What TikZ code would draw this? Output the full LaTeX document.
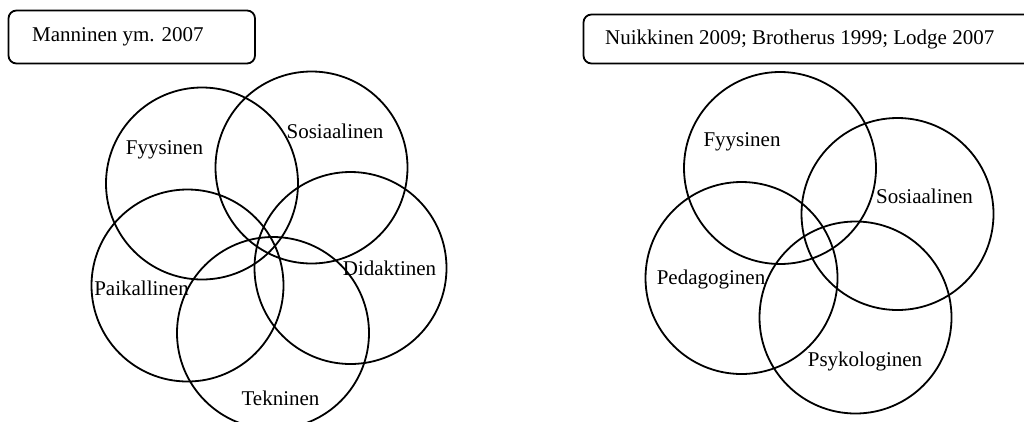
\documentclass[tikz,border=0pt]{standalone}
\usepackage{fontspec}
\setmainfont{Liberation Serif}
\begin{document}
\begin{tikzpicture}[x=1pt,y=-1pt,
  ring/.style={circle,draw=black,line width=1.8pt,minimum size=192pt,inner sep=0pt},
  lbl/.style={font=\fontsize{21}{25}\selectfont,inner sep=0pt},
  refbox/.style={draw=black,line width=1.8pt,rounded corners=8pt}]
\useasboundingbox (0,0) rectangle (1024,421);
\begin{scope}
\clip (0,0) rectangle (1024,421);
% left boxes
\draw[refbox] (8.5,10.5) rectangle (255,63.5);
\node[lbl,anchor=west] (t1) at (32,37) {Manninen ym. 2007};
\draw[refbox] (583.5,14.5) rectangle (1040,63.5);
\node[lbl,anchor=west] (t2) at (605,39) {Nuikkinen 2009; Brotherus 1999; Lodge 2007};
% left circles
\node[ring] (lf) at (202,183.5) {};
\node[ring] (ls) at (311.5,167.5) {};
\node[ring] (ld) at (350.5,268) {};
\node[ring] (lp) at (187.5,285.5) {};
\node[ring] (lt) at (273,333) {};
\node[lbl] (lfl) at (164.5,150) {Fyysinen};
\node[lbl] (lsl) at (335,131) {Sosiaalinen};
\node[lbl] (ldl) at (389.5,268) {Didaktinen};
\node[lbl] (lpl) at (141.5,288) {Paikallinen};
\node[lbl] (ltl) at (280.5,398) {Tekninen};
% right circles
\node[ring] (rf) at (780,168) {};
\node[ring] (rs) at (897.5,214) {};
\node[ring] (rp) at (741.5,278) {};
\node[ring] (ry) at (855.5,317.5) {};
\node[lbl] (rfl) at (742,142) {Fyysinen};
\node[lbl] (rsl) at (924.5,196) {Sosiaalinen};
\node[lbl] (rpl) at (711,279) {Pedagoginen};
\node[lbl] (ryl) at (865,361) {Psykologinen};
\end{scope}
\end{tikzpicture}
\end{document}
